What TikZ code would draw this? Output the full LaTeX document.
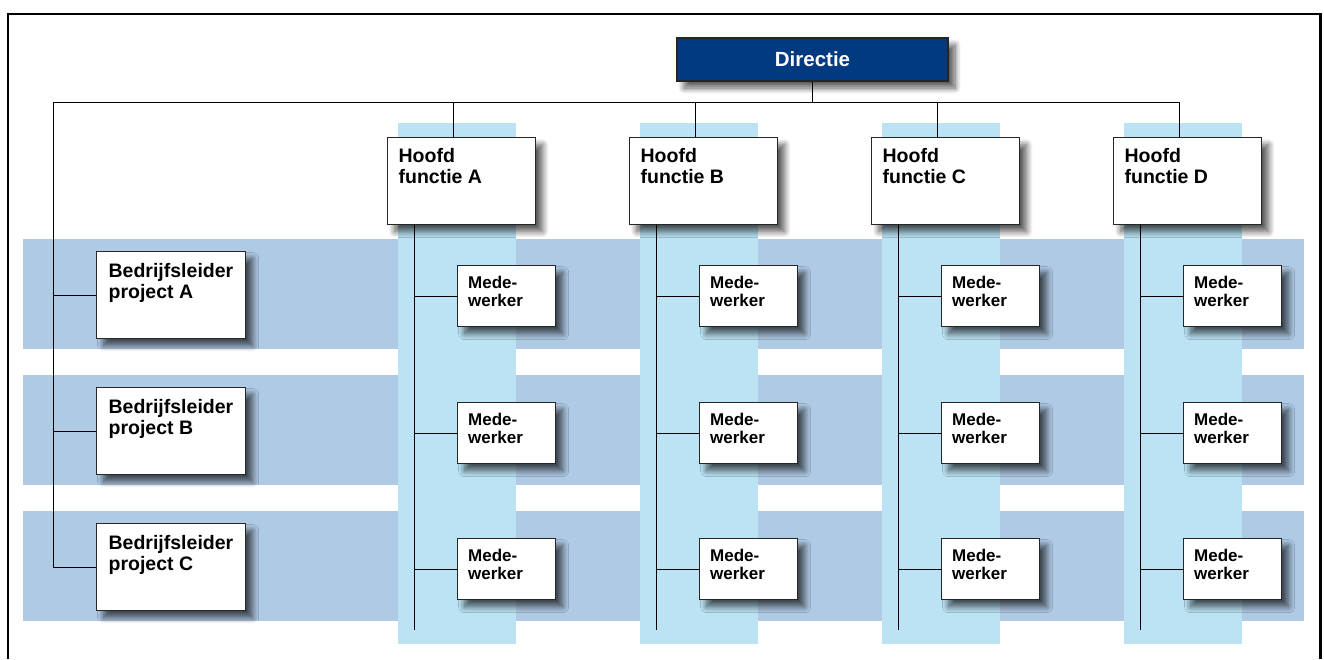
\documentclass[tikz,border=0pt]{standalone}
\usepackage{fontspec}
\setmainfont{Liberation Sans}
\usetikzlibrary{shadows.blur}

\definecolor{dirblue}{HTML}{013A81}
\definecolor{colblue}{HTML}{BBE3F4}
\definecolor{rowblue}{HTML}{AFCAE5}

% text block of fixed size, set flush left from the top-left corner
% #1 width, #2 height, #3 left padding, #4 top padding, #5 text
\newcommand\cellbox[5]{\vbox to #2{\hsize=#1\relax\parindent=0pt
  \leftskip=#3\relax\rightskip=0pt plus 1fil\relax
  \vskip#4\relax\noindent #5\par\vfil}}
\newcommand\hoofdtxt[1]{\cellbox{148pt}{87pt}{11pt}{11pt}{#1}}
\newcommand\leidertxt[1]{\cellbox{149pt}{87pt}{12pt}{12pt}{#1}}
\newcommand\medetxt[1]{\cellbox{98pt}{61pt}{10.5pt}{10.5pt}{#1}}

\pgfdeclarelayer{bands}
\pgfdeclarelayer{wires}
\pgfsetlayers{bands,wires,main}

\tikzset{
  box/.style={draw=black!85, line width=1.3pt, fill=white, inner sep=0pt,
    anchor=north west,
    blur shadow={shadow xshift=7pt, shadow yshift=-7pt,
      shadow blur radius=6pt, shadow blur steps=10, shadow opacity=65}},
  bigtext/.style={font=\bfseries\fontsize{19.5}{21}\selectfont},
  smalltext/.style={font=\bfseries\fontsize{17}{18}\selectfont},
  link/.style={draw=black, line width=1pt},
  band/.style={fill=rowblue},
  column/.style={fill=colblue},
}

\begin{document}
\begin{tikzpicture}[x=1pt, y=-1pt]
\useasboundingbox (0,0) rectangle (1324,659);

% top node
\node[box, anchor=center, fill=dirblue, minimum width=271pt, minimum height=43pt,
  text=white, font=\bfseries\fontsize{20.5}{22}\selectfont] (dir) at (812.5,59.5) {Directie};

% heads of function
\foreach \n/\x/\l in {A/387/A, B/629/B, C/871/C, D/1113/D}{
  \node[box, bigtext] (h\n) at (\x,137) {\hoofdtxt{Hoofd\\functie \l}};
}

% project leaders
\foreach \n/\y in {A/251, B/387, C/523}{
  \node[box, bigtext] (b\n) at (96,\y) {\leidertxt{Bedrijfsleider\\project \n}};
}

% staff, one per column and row
\foreach \n/\x in {A/457, B/699, C/941, D/1183}{
  \foreach \r/\y in {1/265, 2/402, 3/538}{
    \node[box, smalltext] (m\n\r) at (\x,\y) {\medetxt{Mede-\\werker}};
  }
}

% bus coordinates
\coordinate (corner) at (53,102);
\foreach \n/\x in {A/453, B/695, C/937, D/1179}{
  \coordinate (top\n) at (\x,102);
}
\foreach \n/\x in {A/414, B/656, C/898, D/1140}{
  \coordinate (end\n) at (\x,630);
}

\begin{pgfonlayer}{bands}
  % project rows
  \foreach \y in {239, 375, 511}{
    \fill[band] (23,\y) rectangle (1304,\y+110);
  }
  % function columns
  \foreach \x in {398, 640, 882, 1124}{
    \fill[column] (\x,123) rectangle (\x+118,644);
  }
  % outer frame, open at the bottom
  \draw[line width=2.4pt, black] (8,659) -- (8,13.8) -- (1320.5,13.8) -- (1320.5,659);
\end{pgfonlayer}

\begin{pgfonlayer}{wires}
  \draw[link] (dir.south) -- (dir.south |- corner);
  \draw[link] (topD) -- (corner) -- (corner |- bC.west) -- (bC.west);
  \draw[link] (corner |- bA.west) -- (bA.west);
  \draw[link] (corner |- bB.west) -- (bB.west);
  \foreach \n in {A, B, C, D}{
    \draw[link] (top\n) -- (top\n |- h\n.north);
    \draw[link] (end\n |- h\n.south) -- (end\n);
    \foreach \r in {1, 2, 3}{
      \draw[link] (end\n |- m\n\r.west) -- (m\n\r.west);
    }
  }
\end{pgfonlayer}
\end{tikzpicture}
\end{document}
